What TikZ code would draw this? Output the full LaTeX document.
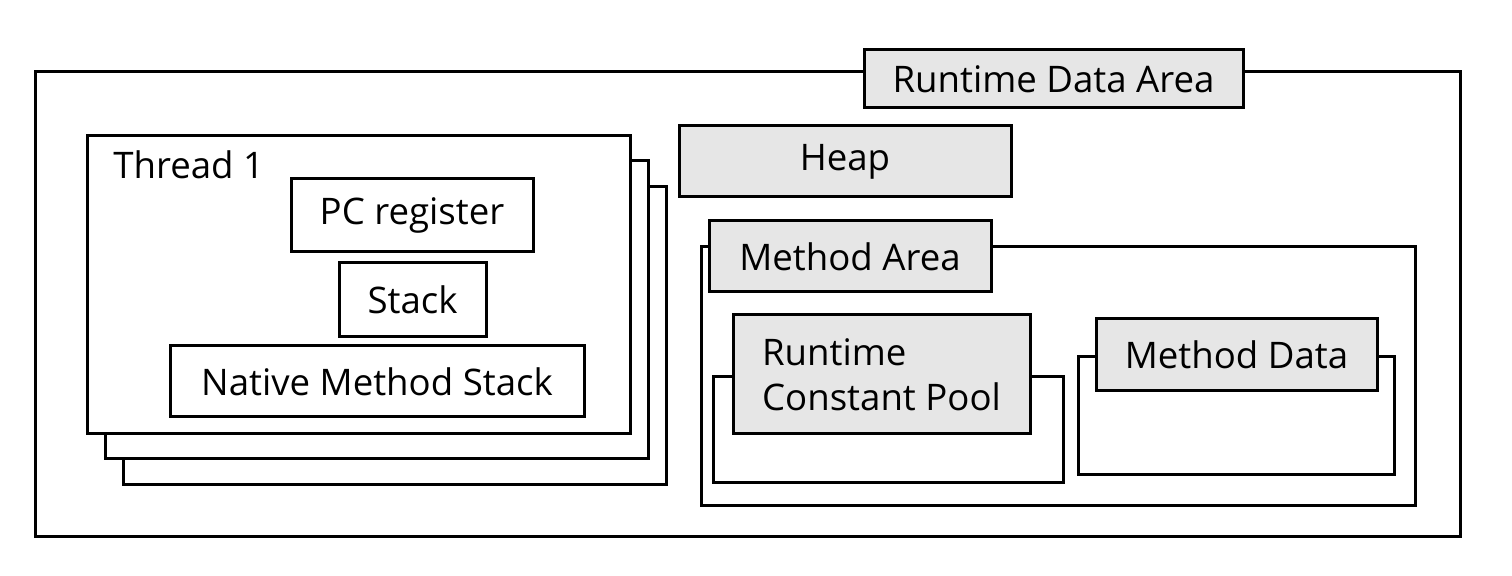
\documentclass[tikz,border=0pt]{standalone}
\usepackage{fontspec}
\setmainfont{Open Sans}
\usetikzlibrary{positioning,calc}
\definecolor{taggray}{HTML}{E6E6E6}
\tikzset{
area/.style = {draw, fill=white, rectangle, line width=1.5pt, inner sep=0pt},
tag/.style = {draw, fill=taggray, rectangle, line width=1.5pt, inner sep=0pt, align=center, font=\fontsize{18.3}{22.5}\selectfont},
part/.style = {draw, fill=white, rectangle, line width=1.5pt, inner sep=0pt, font=\fontsize{18.3}{22.5}\selectfont},
thread/.style = {area, minimum width=271.5pt, minimum height=149pt}
}

\begin{document}
\begin{tikzpicture}[x=0.5pt, y=-0.5pt]
    \useasboundingbox (0,0) rectangle (1512,576);
    \node [area, minimum width=712.5pt, minimum height=232.5pt] (rda) at (747.5,304.5) {};
    \node [tag, minimum width=189.5pt, minimum height=29pt] (rdatag) at (1053.5,79) {Runtime Data Area};
    % thread stack
    \foreach \i/\d in {3/2, 2/1, 1/0}
        \node [thread] (thread\i) at ({358.5+18*\d},{284.5+25.5*\d}) {};
    \node [anchor=base west, inner sep=0pt, font=\fontsize{18.3}{22.5}\selectfont] (threadname) at (113,179) {Thread 1};
    \node [part, minimum width=121pt, minimum height=36.5pt] (pc) at (412,215.5) {PC register};
    \node [part, minimum width=73.5pt, minimum height=37pt] (stack) at (412.5,300) {Stack};
    \node [part, minimum width=207pt, minimum height=35.5pt] (native) at (377,381.5) {Native Method Stack};
    % heap and method area
    \node [tag, minimum width=166pt, minimum height=35.5pt] (heap) at (845,161.5) {Heap};
    \node [area, minimum width=357pt, minimum height=129.5pt] (method) at (1058,376.5) {};
    \node [tag, minimum width=141pt, minimum height=35.5pt] (methodtag) at (850,256.5) {Method Area};
    \node [area, minimum width=175pt, minimum height=53pt] (pool) at (888,430) {};
    \node [tag, minimum width=148.5pt, minimum height=59.5pt, align=left] (pooltag) at (881.5,374.5) {Runtime\\Constant Pool};
    \node [area, minimum width=158pt, minimum height=59pt] (mdata) at (1236,416) {};
    \node [tag, minimum width=140.5pt, minimum height=36pt] (mdatatag) at (1236.5,355) {Method Data};
\end{tikzpicture}
\end{document}
